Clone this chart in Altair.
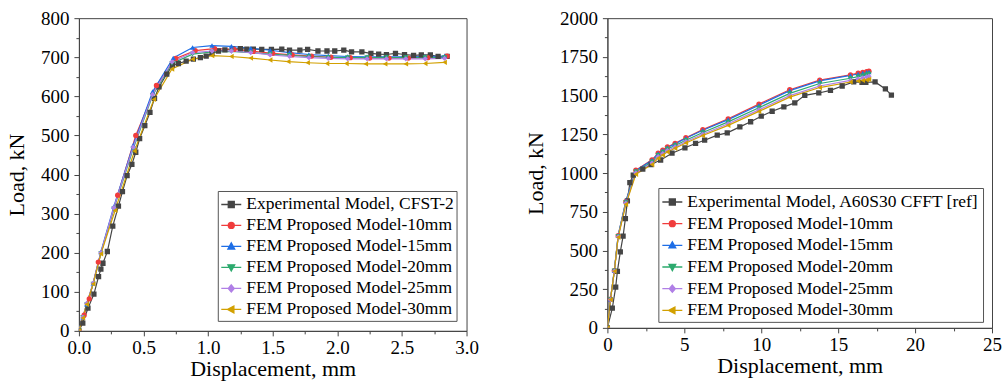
import altair as alt
import pandas as pd

FONT = "Liberation Serif"

# ---------------- left panel data ----------------
SERIES_L = ["Experimental Model, CFST-2", "FEM Proposed Model-10mm", "FEM Proposed Model-15mm",
            "FEM Proposed Model-20mm", "FEM Proposed Model-25mm", "FEM Proposed Model-30mm"]

L_EXP_X = [0, 0.03, 0.07, 0.116, 0.152, 0.17, 0.186, 0.22, 0.262, 0.306, 0.337, 0.373, 0.41, 0.44,
           0.47, 0.51, 0.55, 0.585, 0.62, 0.68, 0.724, 0.77, 0.83, 0.886, 0.94, 0.985, 1.03, 1.08,
           1.13, 1.19, 1.25, 1.30, 1.35, 1.415, 1.49, 1.57, 1.63, 1.71, 1.77, 1.85, 1.92, 1.98,
           2.05, 2.11, 2.19, 2.26, 2.32, 2.38, 2.45, 2.52, 2.59, 2.65, 2.72, 2.78, 2.85]
L_EXP_Y = [0, 20, 58, 94, 139, 158, 173, 203, 268, 319, 356, 397, 426, 457,
           492, 525, 559, 595, 624, 657, 680, 684, 690, 695, 699, 703, 710, 716,
           719, 721, 722, 721, 721, 720, 720, 721, 718, 718, 720, 716, 716, 716,
           718, 714, 714, 710, 708, 707, 710, 707, 705, 706, 706, 702, 702]

L_X10 = [0, 0.04, 0.08, 0.15, 0.30, 0.44, 0.60, 0.75, 0.90, 1.05, 1.20, 1.35, 1.50, 1.65, 1.80,
         1.95, 2.10, 2.25, 2.40, 2.55, 2.70, 2.85]
L_Y10 = [0, 40, 82, 176, 347, 500, 628, 697, 717, 722, 720, 715, 710, 706, 703,
         700, 699, 698, 698, 698, 699, 703]
L_X15 = [0, 0.03, 0.06, 0.11, 0.17, 0.27, 0.42, 0.57, 0.73, 0.88, 1.03, 1.18, 1.33, 1.48, 1.63,
         1.78, 1.93, 2.08, 2.23, 2.38, 2.53, 2.68, 2.83]
L_Y15 = [0, 35, 68, 122, 202, 318, 475, 612, 698, 725, 730, 728, 723, 718, 712,
         707, 704, 702, 701, 701, 701, 702, 703]
L_X20 = [0, 0.03, 0.06, 0.11, 0.17, 0.27, 0.42, 0.57, 0.72, 0.88, 1.03, 1.18, 1.33, 1.48, 1.63,
         1.78, 1.93, 2.08, 2.23, 2.38, 2.53, 2.68, 2.83]
L_Y20 = [0, 34, 67, 120, 198, 312, 466, 602, 684, 708, 714, 715, 712, 708, 705,
         702, 700, 699, 699, 699, 699, 699, 699]
L_X25 = [0, 0.03, 0.06, 0.11, 0.17, 0.27, 0.42, 0.57, 0.72, 0.88, 1.03, 1.18, 1.33, 1.48, 1.63,
         1.78, 1.93, 2.08, 2.23, 2.38, 2.53, 2.68, 2.83]
L_Y25 = [0, 35, 70, 122, 200, 315, 470, 605, 688, 712, 716, 716, 712, 706, 702,
         699, 697, 696, 696, 696, 696, 696, 697]
L_X30 = [0, 0.03, 0.06, 0.11, 0.17, 0.28, 0.43, 0.58, 0.72, 0.88, 1.03, 1.18, 1.33, 1.48, 1.62,
         1.77, 1.92, 2.07, 2.22, 2.37, 2.53, 2.68, 2.83]
L_Y30 = [0, 33, 68, 120, 197, 308, 460, 592, 670, 695, 704, 702, 698, 693, 689,
         686, 684, 684, 683, 683, 683, 684, 687]

# ---------------- right panel data ----------------
SERIES_R = ["Experimental Model, A60S30 CFFT [ref]", "FEM Proposed Model-10mm", "FEM Proposed Model-15mm",
            "FEM Proposed Model-20mm", "FEM Proposed Model-25mm", "FEM Proposed Model-30mm"]

R_EXP_X = [0, 0.32, 0.54, 0.65, 0.84, 1.02, 1.17, 1.3, 1.46, 1.68, 2.3, 2.84, 3.46, 4.2, 5.04,
           5.73, 6.32, 7.14, 7.79, 8.61, 9.31, 10.0, 10.71, 11.47, 12.18, 12.83, 13.74, 14.5,
           15.26, 16.01, 16.55, 16.8, 17.4, 18.07, 18.46]
R_EXP_Y = [0, 127, 263, 365, 491, 593, 705, 820, 938, 987, 1025, 1055, 1084, 1128, 1163,
           1191, 1212, 1245, 1259, 1298, 1331, 1367, 1399, 1427, 1453, 1502, 1517, 1534,
           1562, 1589, 1586, 1585, 1588, 1543, 1503]

R_X = [0, 0.2, 0.45, 0.7, 1.2, 1.85, 2.9, 3.3, 3.6, 3.9, 4.4, 5.1, 6.2, 7.85, 9.85, 11.85,
       13.8, 15.8, 16.3, 16.6, 16.85, 17.0]
R_Y10 = [0, 185, 370, 595, 815, 1018, 1085, 1128, 1148, 1168, 1192, 1228, 1280, 1350, 1445, 1538,
         1600, 1634, 1645, 1650, 1654, 1658]
R_Y15 = [0, 185, 370, 597, 820, 1015, 1082, 1125, 1145, 1165, 1188, 1224, 1276, 1345, 1438, 1532,
         1595, 1630, 1640, 1645, 1650, 1652]
R_Y20 = [0, 183, 368, 592, 810, 1008, 1072, 1115, 1135, 1155, 1178, 1212, 1262, 1330, 1422, 1514,
         1578, 1612, 1622, 1628, 1634, 1640]
R_Y25 = [0, 182, 366, 588, 805, 1000, 1064, 1105, 1125, 1145, 1168, 1202, 1250, 1318, 1408, 1500,
         1562, 1598, 1608, 1614, 1620, 1625]
R_Y30 = [0, 182, 365, 585, 798, 992, 1055, 1096, 1116, 1136, 1160, 1194, 1242, 1308, 1398, 1490,
         1552, 1588, 1595, 1598, 1601, 1605]

COLORS = ["#454545", "#F03C3C", "#1E6EE6", "#2DAA6E", "#B07FE6", "#D2A000"]
SHAPES = ["square", "circle", "triangle-up", "triangle-down", "diamond", "triangle-left"]
LEGEND_PATHS = [
    "M-1,0H1M-0.3,-0.3H0.3V0.3H-0.3Z",
    "M-1,0H1M-0.3,0A0.3,0.3,0,1,0,0.3,0A0.3,0.3,0,1,0,-0.3,0Z",
    "M-1,0H1M0,-0.36L0.34,0.26H-0.34Z",
    "M-1,0H1M0,0.36L0.34,-0.26H-0.34Z",
    "M-1,0H1M0,-0.36L0.3,0L0,0.36L-0.3,0Z",
    "M-1,0H1M-0.36,0L0.26,-0.34V0.34Z",
]


def build_df(series, xs, ys):
    rows = []
    for s, xl, yl in zip(series, xs, ys):
        for i, (a, b) in enumerate(zip(xl, yl)):
            rows.append({"s": s, "x": a, "y": b, "i": i})
    return pd.DataFrame(rows)


def make_axis(vals, fmt, title, major, lpad, tpad):
    return alt.Axis(values=vals, format=fmt, title=title, labelOverlap=False, labelFlush=False,
                    labelFont=FONT, titleFont=FONT, labelFontSize=19, titleFontSize=22,
                    labelColor="black", titleColor="black", titleFontWeight="normal",
                    domainColor="#444444", tickColor="#444444", grid=False,
                    labelPadding=lpad, titlePadding=tpad,
                    labelExpr=f"({major}) ? datum.label : ''",
                    tickSize={"condition": {"test": f"!({major})", "value": 3}, "value": 5})


def panel(df, series, xdom, ydom, xvals, yvals, xmajor, ymajor, xfmt, w, h, lx, ly, rowpad, lpadding):
    xaxis = make_axis(xvals, xfmt, "Displacement, mm", xmajor, 3, 1)
    yaxis = make_axis(yvals, "d", "Load, kN", ymajor, 5, 12)
    X = alt.X("x:Q", scale=alt.Scale(domain=xdom, nice=False, zero=False), axis=xaxis)
    Y = alt.Y("y:Q", scale=alt.Scale(domain=ydom, nice=False, zero=False), axis=yaxis)
    cscale = alt.Scale(domain=series, range=COLORS)
    base = alt.Chart(df)
    line = base.mark_line(strokeWidth=1.2, clip=True).encode(
        x=X, y=Y, color=alt.Color("s:N", scale=cscale, legend=None), order="i:Q")
    pts = base.mark_point(filled=True, size=28, opacity=1, clip=True).encode(
        x=X, y=Y, color=alt.Color("s:N", scale=cscale, legend=None),
        shape=alt.Shape("s:N", scale=alt.Scale(domain=series, range=SHAPES), legend=None))
    leg = alt.Legend(title=None, orient="none", legendX=lx, legendY=ly, symbolSize=400,
                     symbolStrokeWidth=1.3, symbolOpacity=1, labelFont=FONT, labelFontSize=17.5,
                     labelColor="black", labelLimit=0, rowPadding=rowpad, padding=lpadding,
                     strokeColor="#555555", fillColor="white", labelOffset=4)
    carrier = base.mark_point(filled=True, opacity=0, strokeWidth=1.3).encode(
        x=X, y=Y,
        color=alt.Color("s:N", scale=cscale, legend=leg),
        stroke=alt.Stroke("s:N", scale=cscale, legend=leg),
        shape=alt.Shape("s:N", scale=alt.Scale(domain=series, range=LEGEND_PATHS), legend=leg))
    return alt.layer(line, pts, carrier).resolve_scale(
        color="independent", shape="independent", stroke="independent").properties(width=w, height=h)


df_l = build_df(SERIES_L, [L_EXP_X, L_X10, L_X15, L_X20, L_X25, L_X30],
                [L_EXP_Y, L_Y10, L_Y15, L_Y20, L_Y25, L_Y30])
df_r = build_df(SERIES_R, [R_EXP_X, R_X, R_X, R_X, R_X, R_X],
                [R_EXP_Y, R_Y10, R_Y15, R_Y20, R_Y25, R_Y30])

left = panel(df_l, SERIES_L, [0, 3], [0, 800],
             [i * 0.25 for i in range(13)], [i * 50 for i in range(17)],
             "(datum.value*4) % 2 == 0", "datum.value % 100 == 0", ".1f",
             388, 313, 139, 173, 1, 2.5)
right = panel(df_r, SERIES_R, [0, 25], [0, 2000],
              [i * 2.5 for i in range(11)], [i * 125 for i in range(17)],
              "datum.value % 5 == 0", "datum.value % 250 == 0", "d",
              385, 310, 51, 170, 1.7, 3).properties(
    title=alt.TitleParams(" ", fontSize=2, offset=1))

chart = alt.hconcat(left, right, spacing=44).properties(
    padding={"left": 5, "top": 5, "right": 2, "bottom": 1}
).configure(font=FONT).configure_view(stroke="#444444", strokeWidth=1)

chart.save("out.html", embed_options={"renderer": "svg", "actions": False})
